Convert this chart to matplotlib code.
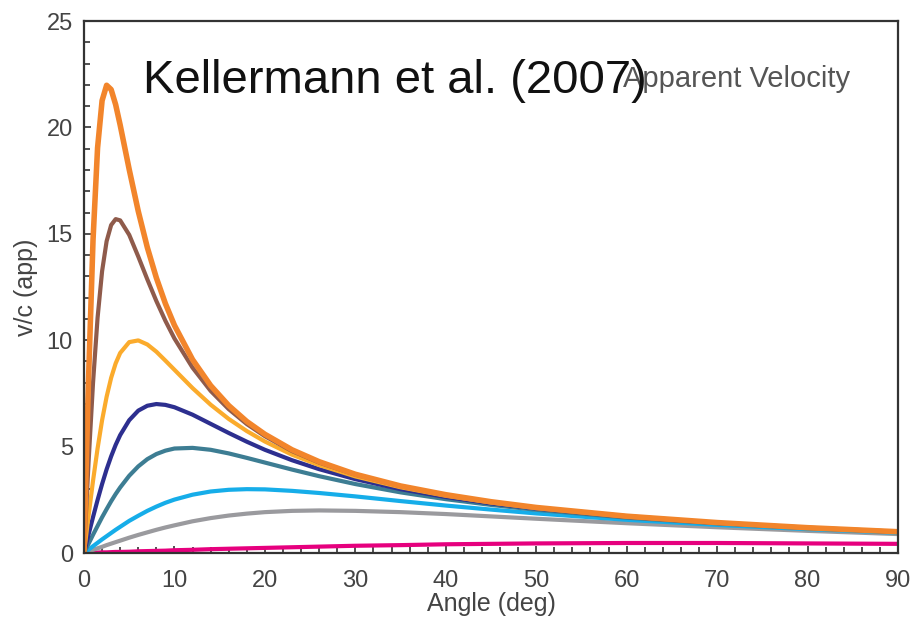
import matplotlib
matplotlib.use("Agg")
import matplotlib.pyplot as plt
from matplotlib.ticker import MultipleLocator

# viewing angle (deg) shared by every curve
angle = [0, 0.25, 0.5, 1, 1.5, 2, 2.5, 3, 3.5, 4, 5, 6, 7, 8, 9, 10, 12, 14, 16, 18,
         20, 23, 26, 30, 35, 40, 45, 50, 60, 70, 80, 90]

# apparent speed v/c for each jet, labelled by its peak value
v_22 = [0.00, 4.19, 8.15, 14.73, 19.04, 21.26, 21.98, 21.78, 21.07, 20.11, 18.02, 16.06,
        14.36, 12.93, 11.72, 10.70, 9.09, 7.87, 6.93, 6.18, 5.58, 4.85, 4.29, 3.70, 3.15,
        2.74, 2.41, 2.14, 1.73, 1.43, 1.19, 1.00]
v_16 = [0.00, 2.14, 4.23, 8.01, 11.05, 13.24, 14.65, 15.41, 15.69, 15.63, 14.95, 13.93,
        12.86, 11.84, 10.91, 10.08, 8.71, 7.62, 6.76, 6.06, 5.49, 4.79, 4.25, 3.68, 3.14,
        2.72, 2.40, 2.13, 1.73, 1.42, 1.19, 1.00]
v_10 = [0.00, 0.87, 1.74, 3.40, 4.91, 6.24, 7.34, 8.23, 8.91, 9.40, 9.91, 9.99, 9.80,
        9.46, 9.04, 8.61, 7.75, 6.97, 6.30, 5.73, 5.24, 4.62, 4.13, 3.60, 3.09, 2.69,
        2.37, 2.11, 1.71, 1.42, 1.18, 1.00]
v_7 = [0.00, 0.43, 0.86, 1.69, 2.49, 3.24, 3.93, 4.54, 5.08, 5.54, 6.24, 6.69, 6.92,
       7.00, 6.96, 6.85, 6.50, 6.07, 5.64, 5.23, 4.85, 4.36, 3.94, 3.47, 3.00, 2.63,
       2.33, 2.09, 1.70, 1.41, 1.18, 0.99]
v_5 = [0.00, 0.22, 0.43, 0.86, 1.27, 1.68, 2.06, 2.43, 2.77, 3.08, 3.63, 4.07, 4.41,
       4.65, 4.81, 4.91, 4.94, 4.85, 4.68, 4.47, 4.25, 3.92, 3.61, 3.24, 2.85, 2.53,
       2.26, 2.03, 1.66, 1.39, 1.16, 0.98]
v_3 = [0.00, 0.08, 0.16, 0.32, 0.48, 0.64, 0.79, 0.94, 1.09, 1.23, 1.51, 1.75, 1.98,
       2.18, 2.36, 2.51, 2.74, 2.89, 2.97, 3.00, 2.99, 2.92, 2.82, 2.66, 2.44, 2.23,
       2.04, 1.86, 1.56, 1.32, 1.12, 0.95]
v_2 = [0.00, 0.04, 0.07, 0.15, 0.22, 0.29, 0.37, 0.44, 0.51, 0.58, 0.72, 0.85, 0.97,
       1.09, 1.20, 1.30, 1.49, 1.64, 1.76, 1.85, 1.92, 1.98, 2.00, 1.98, 1.92, 1.83,
       1.72, 1.61, 1.40, 1.21, 1.04, 0.89]
v_05 = [0.00, 0.00, 0.01, 0.01, 0.02, 0.03, 0.03, 0.04, 0.05, 0.05, 0.06, 0.08, 0.09,
        0.10, 0.11, 0.13, 0.15, 0.18, 0.20, 0.22, 0.24, 0.27, 0.30, 0.34, 0.37, 0.41,
        0.43, 0.45, 0.47, 0.47, 0.45, 0.43]

# drawn bottom to top
curves = [
    (v_05, "#e6007e", 3.0),
    (v_2, "#9a9a9e", 3.0),
    (v_3, "#16ade9", 3.0),
    (v_5, "#3d7d93", 3.0),
    (v_7, "#2d2f8f", 3.0),
    (v_10, "#fbab2c", 3.0),
    (v_16, "#8f5b4b", 3.0),
    (v_22, "#f2852b", 4.0),
]

plt.rcParams["font.family"] = ["Liberation Sans", "DejaVu Sans"]

fig = plt.figure(figsize=(9.23, 6.25), dpi=100)
ax = fig.add_axes([84 / 923, 1 - 553 / 625, (898 - 84) / 923, (553 - 21) / 625])

for vals, col, lw in curves:
    ax.plot(angle, vals, color=col, lw=lw, solid_capstyle="round",
            solid_joinstyle="round")

ax.set_xlim(0, 90)
ax.set_ylim(0, 25)
ax.xaxis.set_major_locator(MultipleLocator(10))
ax.xaxis.set_minor_locator(MultipleLocator(2))
ax.yaxis.set_major_locator(MultipleLocator(5))
ax.yaxis.set_minor_locator(MultipleLocator(1))
ax.tick_params(which="both", direction="in", top=False, right=False,
               colors="#333333", labelcolor="#444444", labelsize=17, width=1.2)
ax.tick_params(which="major", length=5)
ax.tick_params(which="minor", length=4)
ax.tick_params(axis="x", pad=12)
ax.tick_params(axis="y", pad=8)
for sp in ax.spines.values():
    sp.set_color("#333333")
    sp.set_linewidth(1.6)

ax.set_xlabel("Angle (deg)", fontsize=18, color="#444444", labelpad=0)
ax.set_ylabel("v/c (app)", fontsize=18, color="#444444", labelpad=6)

fig.text(623 / 923, 1 - 87 / 625, "Apparent Velocity", fontsize=21,
         color="#555555", va="baseline", ha="left")
fig.text(143 / 923, 1 - 93 / 625, "Kellermann et al. (2007)", fontsize=34,
         color="#111111", va="baseline", ha="left")

fig.savefig("out.png", dpi=100)
